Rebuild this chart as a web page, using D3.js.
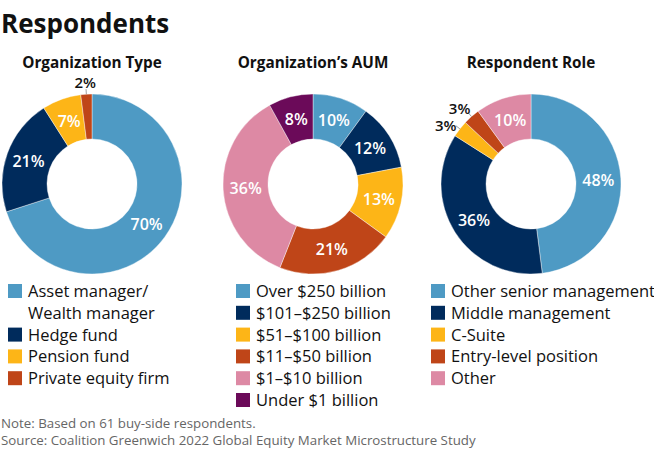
<!DOCTYPE html>
<html lang="en">
<head>
<meta charset="UTF-8">
<title>Respondents</title>
<script src="https://d3js.org/d3.v7.min.js"></script>
<style>
  body { margin: 0; background: #fff; font-family: "Open Sans", "Noto Sans", sans-serif; }
  .title { font-size: 26px; font-weight: 700; fill: #111; }
  .subtitle { font-size: 15.3px; font-weight: 700; fill: #111; text-anchor: middle; }
  .slice-label { font-size: 16px; font-weight: 600; fill: #fff; text-anchor: middle; dominant-baseline: central; }
  .out-label { font-size: 15px; font-weight: 600; fill: #111; text-anchor: middle; dominant-baseline: central; }
  .legend text { font-size: 16.5px; fill: #111; }
  .note { font-size: 13.3px; fill: #666; }
</style>
</head>
<body>
<div id="chart"></div>
<script>
  // colours shared by all three donuts
  const palette = ["#4E9AC4", "#002B5C", "#FDB517", "#BF4518", "#DD89A4", "#6B0A59"];

  // Organization Type
  const orgTypeLabels = [["Asset manager/", "Wealth manager"], ["Hedge fund"], ["Pension fund"], ["Private equity firm"]];
  const orgTypeValues = [70, 21, 7, 2];

  // Organization's AUM
  const aumLabels = [["Over $250 billion"], ["$101\u2013$250 billion"], ["$51\u2013$100 billion"], ["$11\u2013$50 billion"], ["$1\u2013$10 billion"], ["Under $1 billion"]];
  const aumValues = [10, 12, 13, 21, 36, 8];

  // Respondent Role
  const roleLabels = [["Other senior management"], ["Middle management"], ["C-Suite"], ["Entry-level position"], ["Other"]];
  const roleValues = [48, 36, 3, 3, 10];

  const titles = ["Organization Type", "Organization\u2019s AUM", "Respondent Role"];
  const notes = ["Note: Based on 61 buy-side respondents.",
                 "Source: Coalition Greenwich 2022 Global Equity Market Microstructure Study"];

  const charts = [
    {title: titles[0], labels: orgTypeLabels, values: orgTypeValues, cx: 92, legendX: 8},
    {title: titles[1], labels: aumLabels, values: aumValues, cx: 313, legendX: 236},
    {title: titles[2], labels: roleLabels, values: roleValues, cx: 531, legendX: 431}
  ];

  const width = 654, height = 459;
  const cy = 184, outerR = 90, innerR = 45;
  const lineH = 21.8, legendTop = 297, sq = 14;

  const svg = d3.select("#chart").append("svg")
      .attr("width", width)
      .attr("height", height);

  svg.append("text").attr("class", "title").attr("x", 1).attr("y", 33).text("Respondents");

  const pie = d3.pie().sort(null).value(d => d);
  const arc = d3.arc().innerRadius(innerR).outerRadius(outerR);
  const mid = (innerR + outerR) / 2;

  charts.forEach(c => {
    const g = svg.append("g").attr("transform", `translate(${c.cx},${cy})`);
    const arcs = pie(c.values);

    svg.append("text").attr("class", "subtitle")
        .attr("x", c.cx).attr("y", 68).text(c.title);

    g.selectAll("path")
      .data(arcs)
      .enter().append("path")
        .attr("d", arc)
        .attr("fill", (d, i) => palette[i])
        .attr("stroke", "#fff")
        .attr("stroke-width", 0.4);

    const outside = [];
    arcs.forEach(d => {
      const a = (d.startAngle + d.endAngle) / 2;
      const sx = Math.sin(a), sy = -Math.cos(a);
      if (d.value >= 5) {
        g.append("text").attr("class", "slice-label")
          .attr("x", sx * mid).attr("y", sy * mid)
          .text(d.value + "%");
      } else {
        // small slice: label outside with a short leader line
        g.append("line")
          .attr("x1", sx * outerR).attr("y1", sy * outerR)
          .attr("x2", sx * (outerR + 5)).attr("y2", sy * (outerR + 5))
          .attr("stroke", "#888").attr("stroke-width", 0.8);
        const r = outerR + 5;
        outside.push({v: d.value, x: sx * r + sx * 13, y: sy * r + sy * 7});
      }
    });

    // keep outside labels from sitting on top of each other
    outside.sort((a, b) => a.y - b.y);
    for (let i = 1; i < outside.length; i++) {
      if (outside[i].y - outside[i - 1].y < 17) outside[i].y = outside[i - 1].y + 17;
    }
    outside.forEach(o => {
      g.append("text").attr("class", "out-label")
        .attr("x", o.x).attr("y", o.y).text(o.v + "%");
    });

    // legend
    const lg = svg.append("g").attr("class", "legend");
    let line = 0;
    c.labels.forEach((lines, i) => {
      const y = legendTop + line * lineH;
      lg.append("rect")
        .attr("x", c.legendX).attr("y", y - 13)
        .attr("width", sq).attr("height", sq)
        .attr("fill", palette[i]);
      lines.forEach((t, j) => {
        lg.append("text")
          .attr("x", c.legendX + 20).attr("y", y + j * lineH)
          .text(t);
      });
      line += lines.length;
    });
  });

  notes.forEach((t, i) => {
    svg.append("text").attr("class", "note")
      .attr("x", 1).attr("y", 428 + i * 17).text(t);
  });
</script>
</body>
</html>
